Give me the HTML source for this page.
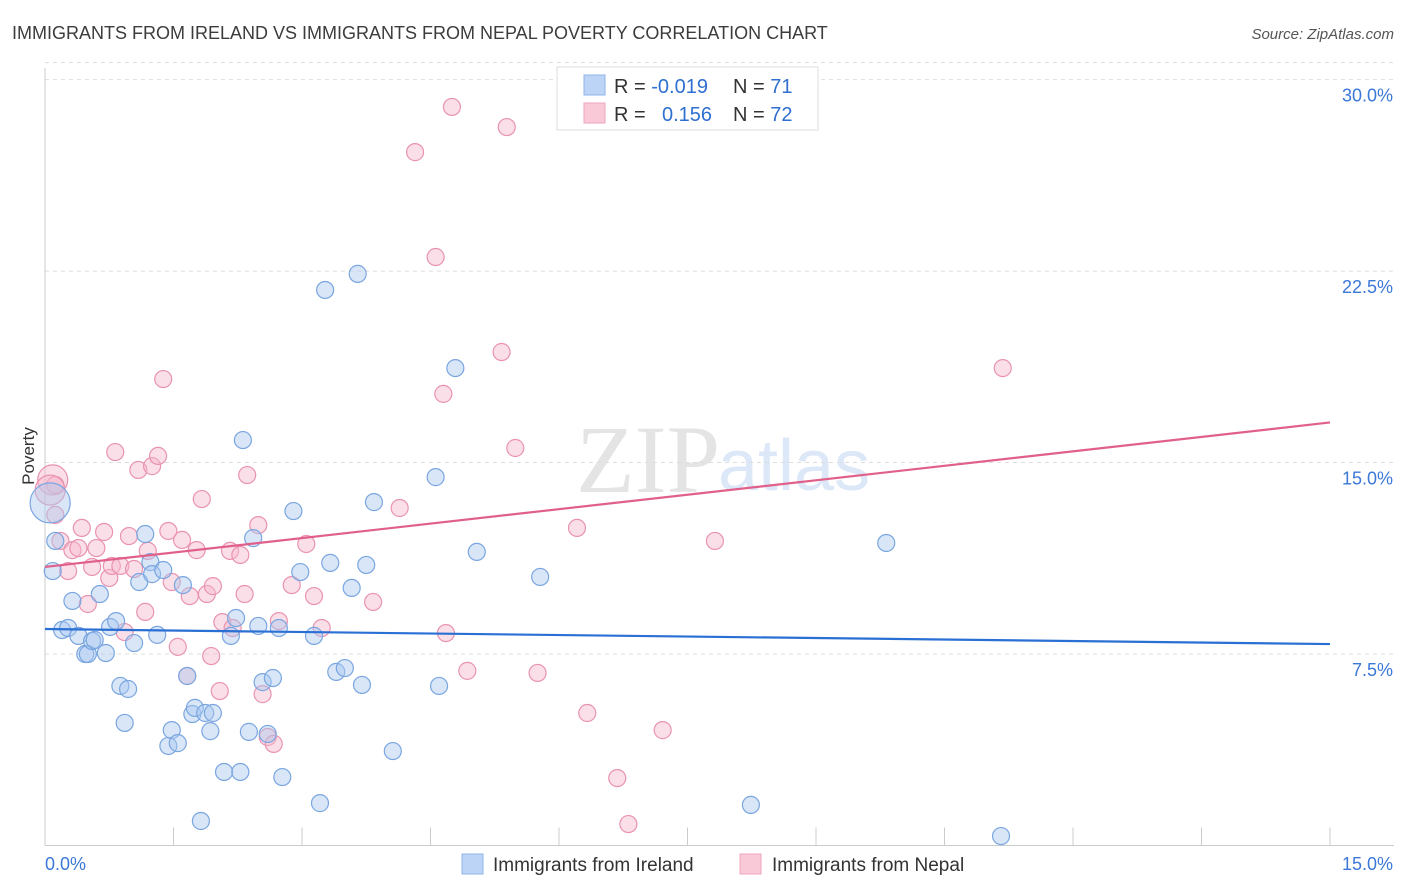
<!DOCTYPE html>
<html><head><meta charset="utf-8"><style>
body{margin:0;background:#fff;font-family:"Liberation Sans",sans-serif;}
svg{display:block}
</style></head><body>
<svg id="chart" width="1406" height="892">
<text x="12" y="39" font-size="18" fill="#3c3c3c">IMMIGRANTS FROM IRELAND VS IMMIGRANTS FROM NEPAL POVERTY CORRELATION CHART</text>
<text x="1394" y="39" font-size="15" fill="#555" font-style="italic" text-anchor="end">Source: ZipAtlas.com</text>
<text x="720" y="492" font-size="96" fill="#e4e4e4" text-anchor="end" font-family="Liberation Serif">ZIP</text>
<text x="718" y="490" font-size="72" fill="#dce8f8">atlas</text>
<g id="grid"></g>
<g id="axes"></g>
<g id="pts"></g>
<g id="lines"></g>
<text transform="translate(34,456) rotate(-90)" font-size="17" fill="#333" text-anchor="middle">Poverty</text>
<g>
<rect x="557" y="67" width="261" height="63" fill="#fff" stroke="#ddd"/>
<rect x="584" y="75" width="21" height="20" fill="#bcd4f5" stroke="#8fb4e8"/>
<rect x="584" y="103" width="21" height="20" fill="#f9c9d8" stroke="#eea5bd"/>
<text x="614" y="93" font-size="20" fill="#333">R = <tspan fill="#2f6fd0">-0.019</tspan></text>
<text x="733" y="93" font-size="20" fill="#333">N = <tspan fill="#2f6fd0"> 71</tspan></text>
<text x="614" y="121" font-size="20" fill="#333">R = <tspan fill="#2f6fd0" x="662">0.156</tspan></text>
<text x="733" y="121" font-size="20" fill="#333">N = <tspan fill="#2f6fd0">72</tspan></text>
</g>
<g>
<rect x="462" y="854" width="21" height="20" fill="#bcd4f5" stroke="#8fb4e8"/>
<text x="493" y="871" font-size="19" fill="#333">Immigrants from Ireland</text>
<rect x="740" y="854" width="21" height="20" fill="#f9c9d8" stroke="#eea5bd"/>
<text x="772" y="871" font-size="19" fill="#333">Immigrants from Nepal</text>
</g>
</svg>
<script>
const xTicks=[0,1.5,3,4.5,6,7.5,9,10.5,12,13.5,15];
const yTicks=[7.5,15,22.5,30];
const yTickLabels=["7.5%","15.0%","22.5%","30.0%"];
const xEndLabels=["0.0%","15.0%"];
const irelandX=[.12,.09,.20,.32,.27,.39,.47,.50,.55,.58,.64,.71,.76,.83,.88,.93,.97,1.04,1.10,1.17,1.23,1.25,1.31,1.38,1.44,1.48,1.55,1.61,1.66,1.72,1.75,1.82,1.87,1.93,1.96,2.09,2.17,2.23,2.28,2.31,2.38,2.43,2.49,2.54,2.60,2.66,2.73,2.77,2.90,2.98,3.14,3.21,3.27,3.33,3.40,3.50,3.58,3.65,3.70,3.75,3.84,4.06,4.56,4.60,4.79,5.04,5.78,8.24,9.82,11.16,.06];
const irelandY=[11.93,10.75,8.44,9.58,8.52,8.21,7.50,7.50,8.01,8.05,9.85,7.54,8.56,8.79,6.25,4.80,6.13,7.93,10.32,12.20,11.10,10.63,8.25,10.79,3.90,4.52,4.01,10.20,6.64,5.15,5.39,0.96,5.19,4.48,5.19,2.88,8.21,8.91,2.88,15.88,4.45,12.04,8.60,6.40,4.37,6.56,8.52,2.68,13.10,10.71,8.21,1.66,21.76,11.07,6.80,6.95,10.09,22.39,6.29,10.99,13.45,3.70,14.43,6.25,18.70,11.50,10.52,1.59,11.85,0.37,13.42];
const nepalX=[.09,.12,.12,.18,.27,.32,.39,.43,.50,.55,.60,.69,.75,.78,.82,.88,.93,.98,1.04,1.09,1.17,1.20,1.25,1.32,1.38,1.44,1.48,1.55,1.60,1.66,1.69,1.77,1.83,1.89,1.94,1.96,2.04,2.07,2.16,2.19,2.28,2.33,2.36,2.49,2.54,2.60,2.67,2.73,2.88,3.05,3.14,3.23,3.83,4.14,4.32,4.56,4.65,4.68,4.75,4.93,5.33,5.39,5.49,5.75,6.21,6.33,6.68,6.81,7.21,7.82,11.18,.06];
const nepalY=[14.32,14.12,12.95,11.93,10.75,11.57,11.65,12.44,9.46,10.91,11.65,12.28,10.48,10.95,15.41,10.95,8.36,12.12,10.83,14.71,9.15,11.54,14.86,15.26,18.27,12.32,10.32,7.78,11.97,6.64,9.77,11.57,13.57,9.85,7.42,10.16,6.05,8.75,11.54,8.52,11.38,9.85,14.51,12.55,5.93,4.25,3.98,8.79,10.20,11.81,9.77,8.52,9.54,13.22,27.16,23.05,17.69,8.32,28.93,6.84,19.33,28.14,15.57,6.76,12.44,5.19,2.64,0.84,4.52,11.93,18.70,13.92];
const irelandBig=[70];
const nepalBig=[0,71];
const irelandTrend=[8.48,7.89];
const nepalTrend=[10.91,16.57];
const trendX=[0,15];

const X0=45,X1=1330,Y0=845.5,PPY=25.53;
const sx=v=>X0+(X1-X0)*v/15;
const sy=v=>Y0-v*PPY;
const NS="http://www.w3.org/2000/svg";
function mk(tag,at,parent){const e=document.createElementNS(NS,tag);for(const k in at)e.setAttribute(k,at[k]);parent.appendChild(e);return e;}
const grid=document.getElementById('grid'),axes=document.getElementById('axes'),pts=document.getElementById('pts'),lines=document.getElementById('lines');
yTicks.forEach((t,i)=>{
 const g=mk('line',{x1:X0,x2:1394,y1:sy(t),y2:sy(t),stroke:'#ddd','stroke-dasharray':'4,4'},grid);
 
 
 const l=mk('text',{x:1393,y:sy(t)+22,'font-size':18,fill:'#3b78d8','text-anchor':'end'},axes);
 l.textContent=yTickLabels[i];
 
 
});
const topGrid=mk('line',{x1:X0,x2:1394,y1:sy(30)-17,y2:sy(30)-17,stroke:'#ddd','stroke-dasharray':'4,4'},grid);


const ya=mk('line',{x1:X0,x2:X0,y1:68,y2:Y0,stroke:'#ccc'},axes);


const xa=mk('line',{x1:X0,x2:1394,y1:Y0,y2:Y0,stroke:'#ccc'},axes);


xTicks.forEach(t=>{
 const k=mk('line',{x1:sx(t),x2:sx(t),y1:Y0,y2:Y0-18,stroke:'#ccc'},axes);
 
 
});
[[0,'start',X0],[1,'end',1393]].forEach(([i,a,x])=>{
 const l=mk('text',{x:x,y:870,'font-size':18,fill:'#3b78d8','text-anchor':a},axes);
 l.textContent=xEndLabels[i];
 
 
});
function drawSeries(xs,ys,big,fill,stroke,name){
 xs.forEach((x,i)=>{
  const r=big.includes(i)?(name==='ireland'?20:15):8.5;
  const c=mk('circle',{cx:sx(x),cy:sy(ys[i]),r:r,fill:fill,'fill-opacity':0.45,stroke:stroke,'stroke-width':1.2},pts);
  
  
 });
}
drawSeries(nepalX,nepalY,nepalBig,'#f6b7cb','#e993b0','nepal');
drawSeries(irelandX,irelandY,irelandBig,'#a9c8f0','#7aa6e0','ireland');
const bl=mk('line',{x1:sx(trendX[0]),x2:sx(trendX[1]),y1:sy(irelandTrend[0]),y2:sy(irelandTrend[1]),stroke:'#2a6fd4','stroke-width':2.2},lines);


const pl=mk('line',{x1:sx(trendX[0]),x2:sx(trendX[1]),y1:sy(nepalTrend[0]),y2:sy(nepalTrend[1]),stroke:'#e0608a','stroke-width':2.2},lines);


</script>
</body></html>
